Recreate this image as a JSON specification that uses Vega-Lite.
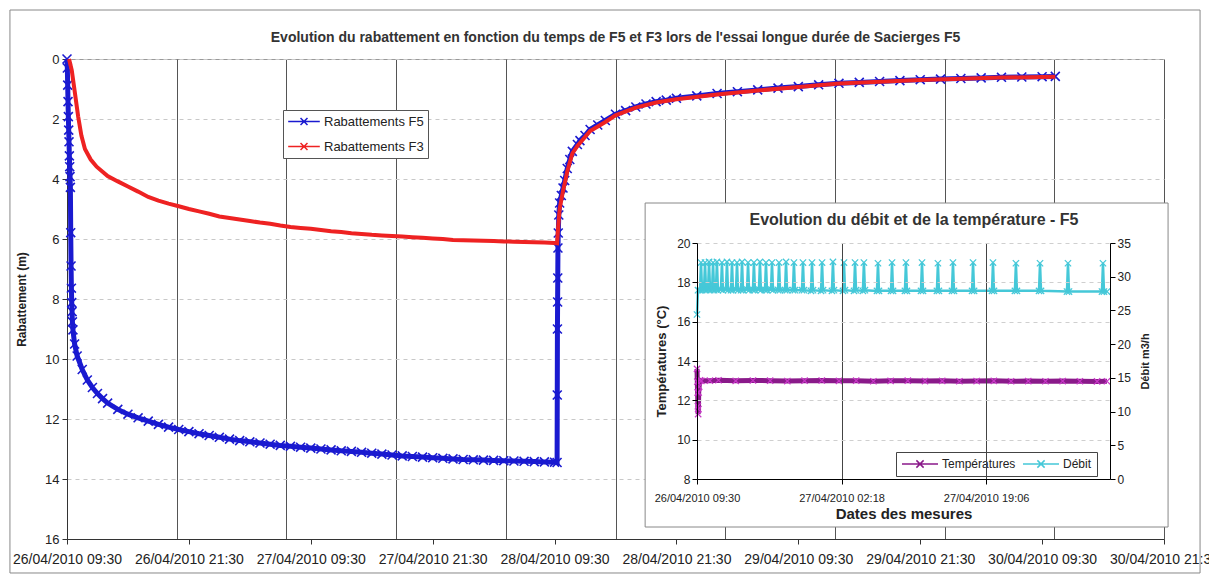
{
  "$schema": "https://vega.github.io/schema/vega-lite/v6.json",
  "autosize": {"type": "none"},
  "padding": {"left": 67, "top": 59, "right": 45, "bottom": 35},
  "width": 1097,
  "height": 480,
  "background": "white",
  "config": {"font": "Liberation Sans", "view": {"stroke": "#999"}, "axis": {"labelColor": "#222", "titleColor": "#222"}},
  "datasets": {
    "main": [
      {"t": "2010-04-26T09:30", "s": "F5", "v": 0},
      {"t": "2010-04-26T09:32", "s": "F5", "v": 0.3},
      {"t": "2010-04-26T09:34", "s": "F5", "v": 0.87},
      {"t": "2010-04-26T09:36", "s": "F5", "v": 1.42},
      {"t": "2010-04-26T09:38", "s": "F5", "v": 1.92},
      {"t": "2010-04-26T09:40", "s": "F5", "v": 2.37},
      {"t": "2010-04-26T09:42", "s": "F5", "v": 2.76},
      {"t": "2010-04-26T09:44", "s": "F5", "v": 3.23},
      {"t": "2010-04-26T09:46", "s": "F5", "v": 3.59},
      {"t": "2010-04-26T09:48", "s": "F5", "v": 3.92},
      {"t": "2010-04-26T09:50", "s": "F5", "v": 4.28},
      {"t": "2010-04-26T09:52", "s": "F5", "v": 5.79},
      {"t": "2010-04-26T09:54", "s": "F5", "v": 6.9},
      {"t": "2010-04-26T09:56", "s": "F5", "v": 7.64},
      {"t": "2010-04-26T09:58", "s": "F5", "v": 8.12},
      {"t": "2010-04-26T10:00", "s": "F5", "v": 8.42},
      {"t": "2010-04-26T10:02", "s": "F5", "v": 8.76},
      {"t": "2010-04-26T10:05", "s": "F5", "v": 9.03},
      {"t": "2010-04-26T10:15", "s": "F5", "v": 9.5},
      {"t": "2010-04-26T10:30", "s": "F5", "v": 9.9},
      {"t": "2010-04-26T11:00", "s": "F5", "v": 10.35},
      {"t": "2010-04-26T11:30", "s": "F5", "v": 10.7},
      {"t": "2010-04-26T12:00", "s": "F5", "v": 10.95},
      {"t": "2010-04-26T12:30", "s": "F5", "v": 11.15},
      {"t": "2010-04-26T13:00", "s": "F5", "v": 11.32},
      {"t": "2010-04-26T13:30", "s": "F5", "v": 11.47},
      {"t": "2010-04-26T14:30", "s": "F5", "v": 11.68},
      {"t": "2010-04-26T15:30", "s": "F5", "v": 11.84},
      {"t": "2010-04-26T16:30", "s": "F5", "v": 11.96},
      {"t": "2010-04-26T17:30", "s": "F5", "v": 12.07},
      {"t": "2010-04-26T18:30", "s": "F5", "v": 12.18},
      {"t": "2010-04-26T19:30", "s": "F5", "v": 12.27},
      {"t": "2010-04-26T20:30", "s": "F5", "v": 12.35},
      {"t": "2010-04-26T21:30", "s": "F5", "v": 12.42},
      {"t": "2010-04-26T22:30", "s": "F5", "v": 12.49},
      {"t": "2010-04-26T23:30", "s": "F5", "v": 12.55},
      {"t": "2010-04-27T00:30", "s": "F5", "v": 12.61},
      {"t": "2010-04-27T01:30", "s": "F5", "v": 12.67},
      {"t": "2010-04-27T02:30", "s": "F5", "v": 12.72},
      {"t": "2010-04-27T03:30", "s": "F5", "v": 12.76},
      {"t": "2010-04-27T04:30", "s": "F5", "v": 12.8},
      {"t": "2010-04-27T05:30", "s": "F5", "v": 12.84},
      {"t": "2010-04-27T06:30", "s": "F5", "v": 12.88},
      {"t": "2010-04-27T07:30", "s": "F5", "v": 12.91},
      {"t": "2010-04-27T08:30", "s": "F5", "v": 12.94},
      {"t": "2010-04-27T09:30", "s": "F5", "v": 12.97},
      {"t": "2010-04-27T10:30", "s": "F5", "v": 13.0},
      {"t": "2010-04-27T11:30", "s": "F5", "v": 13.03},
      {"t": "2010-04-27T12:30", "s": "F5", "v": 13.06},
      {"t": "2010-04-27T13:30", "s": "F5", "v": 13.08},
      {"t": "2010-04-27T14:30", "s": "F5", "v": 13.11},
      {"t": "2010-04-27T15:30", "s": "F5", "v": 13.14},
      {"t": "2010-04-27T16:30", "s": "F5", "v": 13.17},
      {"t": "2010-04-27T17:30", "s": "F5", "v": 13.2},
      {"t": "2010-04-27T18:30", "s": "F5", "v": 13.23},
      {"t": "2010-04-27T19:30", "s": "F5", "v": 13.25},
      {"t": "2010-04-27T20:30", "s": "F5", "v": 13.27},
      {"t": "2010-04-27T21:30", "s": "F5", "v": 13.29},
      {"t": "2010-04-27T22:30", "s": "F5", "v": 13.31},
      {"t": "2010-04-27T23:30", "s": "F5", "v": 13.33},
      {"t": "2010-04-28T00:30", "s": "F5", "v": 13.35},
      {"t": "2010-04-28T01:30", "s": "F5", "v": 13.36},
      {"t": "2010-04-28T02:30", "s": "F5", "v": 13.37},
      {"t": "2010-04-28T03:30", "s": "F5", "v": 13.38},
      {"t": "2010-04-28T04:30", "s": "F5", "v": 13.39},
      {"t": "2010-04-28T05:30", "s": "F5", "v": 13.4},
      {"t": "2010-04-28T06:30", "s": "F5", "v": 13.41},
      {"t": "2010-04-28T07:30", "s": "F5", "v": 13.42},
      {"t": "2010-04-28T08:30", "s": "F5", "v": 13.43},
      {"t": "2010-04-28T09:30", "s": "F5", "v": 13.44},
      {"t": "2010-04-28T09:45", "s": "F5", "v": 13.45},
      {"t": "2010-04-28T09:46", "s": "F5", "v": 11.2},
      {"t": "2010-04-28T09:47", "s": "F5", "v": 9.0},
      {"t": "2010-04-28T09:48", "s": "F5", "v": 8.1},
      {"t": "2010-04-28T09:49", "s": "F5", "v": 7.3},
      {"t": "2010-04-28T09:50", "s": "F5", "v": 6.3},
      {"t": "2010-04-28T09:52", "s": "F5", "v": 5.8},
      {"t": "2010-04-28T09:55", "s": "F5", "v": 5.2},
      {"t": "2010-04-28T10:00", "s": "F5", "v": 4.8},
      {"t": "2010-04-28T10:10", "s": "F5", "v": 4.55},
      {"t": "2010-04-28T10:20", "s": "F5", "v": 4.3},
      {"t": "2010-04-28T10:30", "s": "F5", "v": 4.05},
      {"t": "2010-04-28T10:45", "s": "F5", "v": 3.65},
      {"t": "2010-04-28T11:00", "s": "F5", "v": 3.35},
      {"t": "2010-04-28T11:15", "s": "F5", "v": 3.08},
      {"t": "2010-04-28T11:45", "s": "F5", "v": 2.85},
      {"t": "2010-04-28T12:00", "s": "F5", "v": 2.72},
      {"t": "2010-04-28T12:30", "s": "F5", "v": 2.55},
      {"t": "2010-04-28T13:00", "s": "F5", "v": 2.35},
      {"t": "2010-04-28T13:45", "s": "F5", "v": 2.2},
      {"t": "2010-04-28T14:30", "s": "F5", "v": 2.05},
      {"t": "2010-04-28T15:30", "s": "F5", "v": 1.84},
      {"t": "2010-04-28T16:30", "s": "F5", "v": 1.72},
      {"t": "2010-04-28T17:30", "s": "F5", "v": 1.6},
      {"t": "2010-04-28T18:30", "s": "F5", "v": 1.5},
      {"t": "2010-04-28T19:30", "s": "F5", "v": 1.42},
      {"t": "2010-04-28T20:30", "s": "F5", "v": 1.37},
      {"t": "2010-04-28T21:30", "s": "F5", "v": 1.31},
      {"t": "2010-04-28T23:30", "s": "F5", "v": 1.23},
      {"t": "2010-04-29T01:30", "s": "F5", "v": 1.15},
      {"t": "2010-04-29T03:30", "s": "F5", "v": 1.09},
      {"t": "2010-04-29T05:30", "s": "F5", "v": 1.03},
      {"t": "2010-04-29T07:30", "s": "F5", "v": 0.97},
      {"t": "2010-04-29T09:30", "s": "F5", "v": 0.92},
      {"t": "2010-04-29T11:30", "s": "F5", "v": 0.86},
      {"t": "2010-04-29T13:30", "s": "F5", "v": 0.81},
      {"t": "2010-04-29T15:30", "s": "F5", "v": 0.78},
      {"t": "2010-04-29T17:30", "s": "F5", "v": 0.75},
      {"t": "2010-04-29T19:30", "s": "F5", "v": 0.72},
      {"t": "2010-04-29T21:30", "s": "F5", "v": 0.69},
      {"t": "2010-04-29T23:30", "s": "F5", "v": 0.67},
      {"t": "2010-04-30T01:30", "s": "F5", "v": 0.65},
      {"t": "2010-04-30T03:30", "s": "F5", "v": 0.63},
      {"t": "2010-04-30T05:30", "s": "F5", "v": 0.61},
      {"t": "2010-04-30T07:30", "s": "F5", "v": 0.6},
      {"t": "2010-04-30T09:30", "s": "F5", "v": 0.59},
      {"t": "2010-04-30T10:48", "s": "F5", "v": 0.58},
      {"t": "2010-04-26T09:42", "s": "F3", "v": 0},
      {"t": "2010-04-26T09:58", "s": "F3", "v": 0.37},
      {"t": "2010-04-26T10:17", "s": "F3", "v": 1.14},
      {"t": "2010-04-26T10:36", "s": "F3", "v": 1.92},
      {"t": "2010-04-26T10:55", "s": "F3", "v": 2.55},
      {"t": "2010-04-26T11:16", "s": "F3", "v": 3.0},
      {"t": "2010-04-26T11:50", "s": "F3", "v": 3.35},
      {"t": "2010-04-26T12:25", "s": "F3", "v": 3.59},
      {"t": "2010-04-26T13:30", "s": "F3", "v": 3.9},
      {"t": "2010-04-26T14:30", "s": "F3", "v": 4.08},
      {"t": "2010-04-26T15:30", "s": "F3", "v": 4.25},
      {"t": "2010-04-26T16:30", "s": "F3", "v": 4.42},
      {"t": "2010-04-26T17:30", "s": "F3", "v": 4.6},
      {"t": "2010-04-26T18:30", "s": "F3", "v": 4.72},
      {"t": "2010-04-26T19:30", "s": "F3", "v": 4.82},
      {"t": "2010-04-26T20:30", "s": "F3", "v": 4.91},
      {"t": "2010-04-26T21:30", "s": "F3", "v": 5.0},
      {"t": "2010-04-26T22:30", "s": "F3", "v": 5.08},
      {"t": "2010-04-26T23:30", "s": "F3", "v": 5.16},
      {"t": "2010-04-27T00:30", "s": "F3", "v": 5.25},
      {"t": "2010-04-27T01:30", "s": "F3", "v": 5.3},
      {"t": "2010-04-27T02:30", "s": "F3", "v": 5.35},
      {"t": "2010-04-27T03:30", "s": "F3", "v": 5.4},
      {"t": "2010-04-27T04:30", "s": "F3", "v": 5.45},
      {"t": "2010-04-27T05:30", "s": "F3", "v": 5.49},
      {"t": "2010-04-27T06:30", "s": "F3", "v": 5.55},
      {"t": "2010-04-27T07:30", "s": "F3", "v": 5.6},
      {"t": "2010-04-27T08:30", "s": "F3", "v": 5.63},
      {"t": "2010-04-27T09:30", "s": "F3", "v": 5.66},
      {"t": "2010-04-27T10:30", "s": "F3", "v": 5.7},
      {"t": "2010-04-27T11:30", "s": "F3", "v": 5.74},
      {"t": "2010-04-27T12:30", "s": "F3", "v": 5.77},
      {"t": "2010-04-27T13:30", "s": "F3", "v": 5.81},
      {"t": "2010-04-27T14:30", "s": "F3", "v": 5.83},
      {"t": "2010-04-27T15:30", "s": "F3", "v": 5.86},
      {"t": "2010-04-27T16:30", "s": "F3", "v": 5.88},
      {"t": "2010-04-27T17:30", "s": "F3", "v": 5.9},
      {"t": "2010-04-27T18:30", "s": "F3", "v": 5.92},
      {"t": "2010-04-27T19:30", "s": "F3", "v": 5.94},
      {"t": "2010-04-27T20:30", "s": "F3", "v": 5.96},
      {"t": "2010-04-27T21:30", "s": "F3", "v": 5.98},
      {"t": "2010-04-27T22:30", "s": "F3", "v": 6.0},
      {"t": "2010-04-27T23:30", "s": "F3", "v": 6.03},
      {"t": "2010-04-28T00:30", "s": "F3", "v": 6.04},
      {"t": "2010-04-28T01:30", "s": "F3", "v": 6.05},
      {"t": "2010-04-28T02:30", "s": "F3", "v": 6.06},
      {"t": "2010-04-28T03:30", "s": "F3", "v": 6.07},
      {"t": "2010-04-28T04:30", "s": "F3", "v": 6.08},
      {"t": "2010-04-28T05:30", "s": "F3", "v": 6.09},
      {"t": "2010-04-28T06:30", "s": "F3", "v": 6.1},
      {"t": "2010-04-28T07:30", "s": "F3", "v": 6.11},
      {"t": "2010-04-28T08:30", "s": "F3", "v": 6.12},
      {"t": "2010-04-28T09:30", "s": "F3", "v": 6.13},
      {"t": "2010-04-28T09:45", "s": "F3", "v": 6.14},
      {"t": "2010-04-28T09:50", "s": "F3", "v": 5.7},
      {"t": "2010-04-28T10:00", "s": "F3", "v": 5.0},
      {"t": "2010-04-28T10:10", "s": "F3", "v": 4.7},
      {"t": "2010-04-28T10:20", "s": "F3", "v": 4.4},
      {"t": "2010-04-28T10:30", "s": "F3", "v": 4.15},
      {"t": "2010-04-28T10:45", "s": "F3", "v": 3.75},
      {"t": "2010-04-28T11:15", "s": "F3", "v": 3.15},
      {"t": "2010-04-28T11:45", "s": "F3", "v": 2.9},
      {"t": "2010-04-28T12:00", "s": "F3", "v": 2.8},
      {"t": "2010-04-28T13:00", "s": "F3", "v": 2.4},
      {"t": "2010-04-28T14:30", "s": "F3", "v": 2.1},
      {"t": "2010-04-28T15:30", "s": "F3", "v": 1.88},
      {"t": "2010-04-28T17:30", "s": "F3", "v": 1.62},
      {"t": "2010-04-28T19:30", "s": "F3", "v": 1.45},
      {"t": "2010-04-28T21:30", "s": "F3", "v": 1.34},
      {"t": "2010-04-29T01:30", "s": "F3", "v": 1.18},
      {"t": "2010-04-29T05:30", "s": "F3", "v": 1.05},
      {"t": "2010-04-29T09:30", "s": "F3", "v": 0.93},
      {"t": "2010-04-29T13:30", "s": "F3", "v": 0.82},
      {"t": "2010-04-29T17:30", "s": "F3", "v": 0.76},
      {"t": "2010-04-29T21:30", "s": "F3", "v": 0.7},
      {"t": "2010-04-30T01:30", "s": "F3", "v": 0.66},
      {"t": "2010-04-30T05:30", "s": "F3", "v": 0.62},
      {"t": "2010-04-30T09:30", "s": "F3", "v": 0.6},
      {"t": "2010-04-30T10:48", "s": "F3", "v": 0.59}
    ],
    "inset": [
      {"t": "2010-04-26T09:30", "s": "Températures", "v": 13.6},
      {"t": "2010-04-26T09:32", "s": "Températures", "v": 12.95},
      {"t": "2010-04-26T09:34", "s": "Températures", "v": 12.4},
      {"t": "2010-04-26T09:36", "s": "Températures", "v": 11.7},
      {"t": "2010-04-26T09:38", "s": "Températures", "v": 11.3},
      {"t": "2010-04-26T09:40", "s": "Températures", "v": 11.55},
      {"t": "2010-04-26T09:42", "s": "Températures", "v": 12.4},
      {"t": "2010-04-26T09:45", "s": "Températures", "v": 12.7},
      {"t": "2010-04-26T09:50", "s": "Températures", "v": 13.02},
      {"t": "2010-04-26T10:00", "s": "Températures", "v": 12.99},
      {"t": "2010-04-26T11:00", "s": "Températures", "v": 13.0},
      {"t": "2010-04-26T12:00", "s": "Températures", "v": 13.02},
      {"t": "2010-04-26T14:00", "s": "Températures", "v": 12.99},
      {"t": "2010-04-26T16:00", "s": "Températures", "v": 13.01},
      {"t": "2010-04-26T18:00", "s": "Températures", "v": 13.0},
      {"t": "2010-04-26T20:00", "s": "Températures", "v": 12.98},
      {"t": "2010-04-26T22:00", "s": "Températures", "v": 13.0},
      {"t": "2010-04-27T00:00", "s": "Températures", "v": 13.01},
      {"t": "2010-04-27T02:00", "s": "Températures", "v": 12.99},
      {"t": "2010-04-27T04:00", "s": "Températures", "v": 13.0},
      {"t": "2010-04-27T06:00", "s": "Températures", "v": 12.97},
      {"t": "2010-04-27T08:00", "s": "Températures", "v": 12.99},
      {"t": "2010-04-27T10:00", "s": "Températures", "v": 13.0},
      {"t": "2010-04-27T12:00", "s": "Températures", "v": 12.98},
      {"t": "2010-04-27T14:00", "s": "Températures", "v": 12.99},
      {"t": "2010-04-27T16:00", "s": "Températures", "v": 12.97},
      {"t": "2010-04-27T18:00", "s": "Températures", "v": 12.98},
      {"t": "2010-04-27T20:00", "s": "Températures", "v": 12.99},
      {"t": "2010-04-27T22:00", "s": "Températures", "v": 12.97},
      {"t": "2010-04-28T00:00", "s": "Températures", "v": 12.98},
      {"t": "2010-04-28T02:00", "s": "Températures", "v": 12.97},
      {"t": "2010-04-28T04:00", "s": "Températures", "v": 12.98},
      {"t": "2010-04-28T06:00", "s": "Températures", "v": 12.97},
      {"t": "2010-04-28T08:00", "s": "Températures", "v": 12.96},
      {"t": "2010-04-28T09:09", "s": "Températures", "v": 12.97},
      {"t": "2010-04-26T09:30", "s": "Débit", "v": 24.4},
      {"t": "2010-04-26T09:37", "s": "Débit", "v": 28.0},
      {"t": "2010-04-26T09:51", "s": "Débit", "v": 28.0},
      {"t": "2010-04-26T09:58", "s": "Débit", "v": 32.1},
      {"t": "2010-04-26T10:05", "s": "Débit", "v": 28.0},
      {"t": "2010-04-26T10:19", "s": "Débit", "v": 28.1},
      {"t": "2010-04-26T10:26", "s": "Débit", "v": 32.1},
      {"t": "2010-04-26T10:33", "s": "Débit", "v": 28.0},
      {"t": "2010-04-26T10:47", "s": "Débit", "v": 28.1},
      {"t": "2010-04-26T10:54", "s": "Débit", "v": 32.2},
      {"t": "2010-04-26T11:01", "s": "Débit", "v": 28.0},
      {"t": "2010-04-26T11:15", "s": "Débit", "v": 28.1},
      {"t": "2010-04-26T11:22", "s": "Débit", "v": 32.1},
      {"t": "2010-04-26T11:29", "s": "Débit", "v": 28.0},
      {"t": "2010-04-26T11:42", "s": "Débit", "v": 28.1},
      {"t": "2010-04-26T11:49", "s": "Débit", "v": 32.2},
      {"t": "2010-04-26T11:56", "s": "Débit", "v": 28.0},
      {"t": "2010-04-26T12:17", "s": "Débit", "v": 28.1},
      {"t": "2010-04-26T12:24", "s": "Débit", "v": 32.1},
      {"t": "2010-04-26T12:31", "s": "Débit", "v": 28.0},
      {"t": "2010-04-26T12:52", "s": "Débit", "v": 28.1},
      {"t": "2010-04-26T12:59", "s": "Débit", "v": 32.2},
      {"t": "2010-04-26T13:06", "s": "Débit", "v": 28.0},
      {"t": "2010-04-26T13:27", "s": "Débit", "v": 28.0},
      {"t": "2010-04-26T13:34", "s": "Débit", "v": 32.1},
      {"t": "2010-04-26T13:41", "s": "Débit", "v": 28.0},
      {"t": "2010-04-26T14:02", "s": "Débit", "v": 28.1},
      {"t": "2010-04-26T14:09", "s": "Débit", "v": 32.1},
      {"t": "2010-04-26T14:16", "s": "Débit", "v": 28.0},
      {"t": "2010-04-26T14:37", "s": "Débit", "v": 28.0},
      {"t": "2010-04-26T14:44", "s": "Débit", "v": 32.2},
      {"t": "2010-04-26T14:51", "s": "Débit", "v": 28.0},
      {"t": "2010-04-26T15:19", "s": "Débit", "v": 28.1},
      {"t": "2010-04-26T15:26", "s": "Débit", "v": 32.1},
      {"t": "2010-04-26T15:33", "s": "Débit", "v": 28.0},
      {"t": "2010-04-26T16:00", "s": "Débit", "v": 28.0},
      {"t": "2010-04-26T16:07", "s": "Débit", "v": 32.1},
      {"t": "2010-04-26T16:14", "s": "Débit", "v": 28.0},
      {"t": "2010-04-26T16:42", "s": "Débit", "v": 28.1},
      {"t": "2010-04-26T16:49", "s": "Débit", "v": 32.2},
      {"t": "2010-04-26T16:56", "s": "Débit", "v": 28.0},
      {"t": "2010-04-26T17:24", "s": "Débit", "v": 28.0},
      {"t": "2010-04-26T17:31", "s": "Débit", "v": 32.1},
      {"t": "2010-04-26T17:38", "s": "Débit", "v": 28.0},
      {"t": "2010-04-26T18:06", "s": "Débit", "v": 28.1},
      {"t": "2010-04-26T18:13", "s": "Débit", "v": 32.1},
      {"t": "2010-04-26T18:20", "s": "Débit", "v": 28.0},
      {"t": "2010-04-26T18:55", "s": "Débit", "v": 28.0},
      {"t": "2010-04-26T19:02", "s": "Débit", "v": 32.1},
      {"t": "2010-04-26T19:09", "s": "Débit", "v": 28.0},
      {"t": "2010-04-26T19:44", "s": "Débit", "v": 28.0},
      {"t": "2010-04-26T19:51", "s": "Débit", "v": 32.2},
      {"t": "2010-04-26T19:58", "s": "Débit", "v": 28.0},
      {"t": "2010-04-26T20:39", "s": "Débit", "v": 28.0},
      {"t": "2010-04-26T20:46", "s": "Débit", "v": 32.1},
      {"t": "2010-04-26T20:53", "s": "Débit", "v": 28.0},
      {"t": "2010-04-26T21:42", "s": "Débit", "v": 28.0},
      {"t": "2010-04-26T21:49", "s": "Débit", "v": 32.1},
      {"t": "2010-04-26T21:56", "s": "Débit", "v": 28.0},
      {"t": "2010-04-26T22:45", "s": "Débit", "v": 27.9},
      {"t": "2010-04-26T22:52", "s": "Débit", "v": 32.1},
      {"t": "2010-04-26T22:59", "s": "Débit", "v": 28.0},
      {"t": "2010-04-26T23:55", "s": "Débit", "v": 27.9},
      {"t": "2010-04-27T00:02", "s": "Débit", "v": 32.1},
      {"t": "2010-04-27T00:09", "s": "Débit", "v": 28.0},
      {"t": "2010-04-27T01:11", "s": "Débit", "v": 27.9},
      {"t": "2010-04-27T01:18", "s": "Débit", "v": 32.2},
      {"t": "2010-04-27T01:25", "s": "Débit", "v": 28.0},
      {"t": "2010-04-27T02:28", "s": "Débit", "v": 27.9},
      {"t": "2010-04-27T02:35", "s": "Débit", "v": 32.1},
      {"t": "2010-04-27T02:42", "s": "Débit", "v": 28.0},
      {"t": "2010-04-27T03:45", "s": "Débit", "v": 27.9},
      {"t": "2010-04-27T03:52", "s": "Débit", "v": 32.1},
      {"t": "2010-04-27T03:59", "s": "Débit", "v": 28.0},
      {"t": "2010-04-27T04:47", "s": "Débit", "v": 27.9},
      {"t": "2010-04-27T04:54", "s": "Débit", "v": 32.1},
      {"t": "2010-04-27T05:01", "s": "Débit", "v": 28.0},
      {"t": "2010-04-27T06:25", "s": "Débit", "v": 27.9},
      {"t": "2010-04-27T06:32", "s": "Débit", "v": 32.0},
      {"t": "2010-04-27T06:39", "s": "Débit", "v": 27.9},
      {"t": "2010-04-27T08:03", "s": "Débit", "v": 27.9},
      {"t": "2010-04-27T08:10", "s": "Débit", "v": 32.1},
      {"t": "2010-04-27T08:17", "s": "Débit", "v": 27.9},
      {"t": "2010-04-27T09:40", "s": "Débit", "v": 27.9},
      {"t": "2010-04-27T09:47", "s": "Débit", "v": 32.1},
      {"t": "2010-04-27T09:54", "s": "Débit", "v": 27.9},
      {"t": "2010-04-27T11:32", "s": "Débit", "v": 27.9},
      {"t": "2010-04-27T11:39", "s": "Débit", "v": 32.1},
      {"t": "2010-04-27T11:46", "s": "Débit", "v": 27.9},
      {"t": "2010-04-27T13:23", "s": "Débit", "v": 27.9},
      {"t": "2010-04-27T13:30", "s": "Débit", "v": 32.0},
      {"t": "2010-04-27T13:37", "s": "Débit", "v": 27.9},
      {"t": "2010-04-27T15:08", "s": "Débit", "v": 27.9},
      {"t": "2010-04-27T15:15", "s": "Débit", "v": 32.1},
      {"t": "2010-04-27T15:22", "s": "Débit", "v": 27.9},
      {"t": "2010-04-27T17:28", "s": "Débit", "v": 27.9},
      {"t": "2010-04-27T17:35", "s": "Débit", "v": 32.1},
      {"t": "2010-04-27T17:42", "s": "Débit", "v": 27.9},
      {"t": "2010-04-27T19:47", "s": "Débit", "v": 27.9},
      {"t": "2010-04-27T19:54", "s": "Débit", "v": 32.1},
      {"t": "2010-04-27T20:01", "s": "Débit", "v": 27.9},
      {"t": "2010-04-27T22:27", "s": "Débit", "v": 27.9},
      {"t": "2010-04-27T22:34", "s": "Débit", "v": 32.0},
      {"t": "2010-04-27T22:41", "s": "Débit", "v": 27.9},
      {"t": "2010-04-28T01:15", "s": "Débit", "v": 27.9},
      {"t": "2010-04-28T01:22", "s": "Débit", "v": 32.0},
      {"t": "2010-04-28T01:29", "s": "Débit", "v": 27.9},
      {"t": "2010-04-28T04:30", "s": "Débit", "v": 27.8},
      {"t": "2010-04-28T04:37", "s": "Débit", "v": 32.0},
      {"t": "2010-04-28T04:44", "s": "Débit", "v": 27.8},
      {"t": "2010-04-28T08:34", "s": "Débit", "v": 27.8},
      {"t": "2010-04-28T08:41", "s": "Débit", "v": 32.0},
      {"t": "2010-04-28T08:48", "s": "Débit", "v": 27.8},
      {"t": "2010-04-28T09:09", "s": "Débit", "v": 27.8}
    ]
  },
  "layer": [
    {
      "data": {"values": [{}]},
      "mark": {"type": "rect", "fill": "transparent", "stroke": "#888", "strokeWidth": 1},
      "encoding": {
        "x": {"datum": {"year": 2010, "month": 4, "date": 26, "hours": 3, "minutes": 53}, "type": "temporal",
          "scale": {"domain": [{"year": 2010, "month": 4, "date": 26, "hours": 9, "minutes": 30}, {"year": 2010, "month": 4, "date": 30, "hours": 21, "minutes": 30}], "nice": false},
          "axis": {"orient": "top", "title": null, "labels": false, "ticks": false, "domain": false, "grid": true, "gridColor": "#555", "gridWidth": 1,
            "values": [
              {"year": 2010, "month": 4, "date": 26, "hours": 9, "minutes": 30},
              {"year": 2010, "month": 4, "date": 26, "hours": 20, "minutes": 18},
              {"year": 2010, "month": 4, "date": 27, "hours": 7, "minutes": 6},
              {"year": 2010, "month": 4, "date": 27, "hours": 17, "minutes": 54},
              {"year": 2010, "month": 4, "date": 28, "hours": 4, "minutes": 42},
              {"year": 2010, "month": 4, "date": 28, "hours": 15, "minutes": 30},
              {"year": 2010, "month": 4, "date": 29, "hours": 2, "minutes": 18},
              {"year": 2010, "month": 4, "date": 29, "hours": 13, "minutes": 6},
              {"year": 2010, "month": 4, "date": 29, "hours": 23, "minutes": 54},
              {"year": 2010, "month": 4, "date": 30, "hours": 10, "minutes": 42},
              {"year": 2010, "month": 4, "date": 30, "hours": 21, "minutes": 30}
            ]}},
        "x2": {"datum": {"year": 2010, "month": 5, "date": 1, "hours": 1, "minutes": 3}},
        "y": {"datum": -1.633, "type": "quantitative", "scale": {"domain": [0, 16], "reverse": true, "nice": false, "zero": false}, "axis": null},
        "y2": {"datum": 17.133}
      }
    },
    {
      "data": {"values": [{}]},
      "mark": {"type": "rect", "fill": "white", "stroke": "#888", "strokeWidth": 1},
      "encoding": {
        "x": {"datum": {"year": 2010, "month": 4, "date": 28, "hours": 18, "minutes": 25}, "type": "temporal",
          "scale": {"domain": [{"year": 2010, "month": 4, "date": 26, "hours": 9, "minutes": 30}, {"year": 2010, "month": 4, "date": 30, "hours": 21, "minutes": 30}], "nice": false}, "axis": null},
        "x2": {"datum": {"year": 2010, "month": 4, "date": 30, "hours": 21, "minutes": 54}},
        "y": {"datum": 4.8, "type": "quantitative", "scale": {"domain": [0, 16], "reverse": true, "nice": false, "zero": false}, "axis": null},
        "y2": {"datum": 15.6}
      }
    },
    {
      "data": {"name": "main"},
      "transform": [{"filter": "datum.s === 'F5'"}],
      "mark": {"type": "line", "strokeWidth": 5},
      "encoding": {
        "x": {"field": "t", "type": "temporal",
          "scale": {"domain": [{"year": 2010, "month": 4, "date": 26, "hours": 9, "minutes": 30}, {"year": 2010, "month": 4, "date": 30, "hours": 21, "minutes": 30}], "nice": false},
          "axis": {"orient": "bottom", "title": null, "format": "%d/%m/%Y %H:%M", "labelFontSize": 14, "labelPadding": 8, "labelOverlap": false, "labelFlush": false, "grid": false, "tickSize": 5, "tickColor": "#333", "domainColor": "#333",
            "values": [
              {"year": 2010, "month": 4, "date": 26, "hours": 9, "minutes": 30},
              {"year": 2010, "month": 4, "date": 26, "hours": 21, "minutes": 30},
              {"year": 2010, "month": 4, "date": 27, "hours": 9, "minutes": 30},
              {"year": 2010, "month": 4, "date": 27, "hours": 21, "minutes": 30},
              {"year": 2010, "month": 4, "date": 28, "hours": 9, "minutes": 30},
              {"year": 2010, "month": 4, "date": 28, "hours": 21, "minutes": 30},
              {"year": 2010, "month": 4, "date": 29, "hours": 9, "minutes": 30},
              {"year": 2010, "month": 4, "date": 29, "hours": 21, "minutes": 30},
              {"year": 2010, "month": 4, "date": 30, "hours": 9, "minutes": 30},
              {"year": 2010, "month": 4, "date": 30, "hours": 21, "minutes": 30}
            ]}},
        "y": {"field": "v", "type": "quantitative", "title": "Rabattement (m)",
          "scale": {"domain": [0, 16], "reverse": true, "nice": false, "zero": false},
          "axis": {"orient": "left", "values": [0, 2, 4, 6, 8, 10, 12, 14, 16], "labelFontSize": 13, "labelPadding": 3, "tickSize": 5, "grid": true, "gridColor": "#c8c8c8", "gridDash": [4, 4], "domainColor": "#333", "tickColor": "#333", "titleFontSize": 12, "titleFontWeight": "bold", "titlePadding": 16}},
        "color": {"field": "s", "type": "nominal",
          "scale": {"domain": ["F5", "F3"], "range": ["#1a1ad0", "#ee2222"]},
          "legend": {"orient": "none", "legendX": 216, "legendY": 51, "title": null, "labelExpr": "'Rabattements ' + datum.label",
            "symbolType": "M-1,0L1,0M-0.22,-0.22L0.22,0.22M-0.22,0.22L0.22,-0.22", "symbolSize": 1000, "symbolStrokeWidth": 1.5, "clipHeight": 15,
            "labelFontSize": 13, "labelColor": "#222", "labelOffset": 3, "rowPadding": 10, "padding": 4, "strokeColor": "#555", "fillColor": "white"}}
      }
    },
    {
      "data": {"name": "main"},
      "transform": [{"filter": "datum.s === 'F5'"}],
      "mark": {"type": "point", "shape": "M-1,-1L1,1M-1,1L1,-1", "filled": false, "size": 80, "strokeWidth": 1.6, "color": "#1a1ad0", "opacity": 1},
      "encoding": {
        "x": {"field": "t", "type": "temporal", "axis": null,
          "scale": {"domain": [{"year": 2010, "month": 4, "date": 26, "hours": 9, "minutes": 30}, {"year": 2010, "month": 4, "date": 30, "hours": 21, "minutes": 30}], "nice": false}},
        "y": {"field": "v", "type": "quantitative", "axis": null, "scale": {"domain": [0, 16], "reverse": true, "nice": false, "zero": false}}
      }
    },
    {
      "data": {"name": "main"},
      "transform": [{"filter": "datum.s === 'F3'"}],
      "mark": {"type": "line", "strokeWidth": 4, "color": "#ee2222"},
      "encoding": {
        "x": {"field": "t", "type": "temporal", "axis": null,
          "scale": {"domain": [{"year": 2010, "month": 4, "date": 26, "hours": 9, "minutes": 30}, {"year": 2010, "month": 4, "date": 30, "hours": 21, "minutes": 30}], "nice": false}},
        "y": {"field": "v", "type": "quantitative", "axis": null, "scale": {"domain": [0, 16], "reverse": true, "nice": false, "zero": false}}
      }
    },
    {
      "data": {"values": [{}]},
      "mark": {"type": "text", "text": "Evolution du rabattement en fonction du temps de F5 et F3 lors de l'essai longue durée de Sacierges F5", "fontSize": 14, "fontWeight": "bold", "color": "#333", "align": "center", "baseline": "middle"},
      "encoding": {
        "x": {"datum": {"year": 2010, "month": 4, "date": 28, "hours": 15, "minutes": 30}, "type": "temporal", "axis": null,
          "scale": {"domain": [{"year": 2010, "month": 4, "date": 26, "hours": 9, "minutes": 30}, {"year": 2010, "month": 4, "date": 30, "hours": 21, "minutes": 30}], "nice": false}},
        "y": {"datum": -0.7, "type": "quantitative", "axis": null, "scale": {"domain": [0, 16], "reverse": true, "nice": false, "zero": false}}
      }
    },
    {
      "data": {"values": [{}]},
      "mark": {"type": "text", "text": "Evolution du débit et de la température  - F5", "fontSize": 16, "fontWeight": "bold", "color": "#333", "align": "center", "baseline": "middle"},
      "encoding": {
        "x": {"datum": {"year": 2010, "month": 4, "date": 29, "hours": 20, "minutes": 53}, "type": "temporal", "axis": null,
          "scale": {"domain": [{"year": 2010, "month": 4, "date": 26, "hours": 9, "minutes": 30}, {"year": 2010, "month": 4, "date": 30, "hours": 21, "minutes": 30}], "nice": false}},
        "y": {"datum": 5.367, "type": "quantitative", "axis": null, "scale": {"domain": [0, 16], "reverse": true, "nice": false, "zero": false}}
      }
    },
    {
      "data": {"name": "inset"},
      "transform": [{"filter": "datum.s === 'Températures'"}],
      "mark": {"type": "line", "strokeWidth": 5},
      "encoding": {
        "x": {"field": "t", "type": "temporal", "title": "Dates des mesures",
          "scale": {"domain": [{"year": 2010, "month": 4, "date": 26, "hours": 9, "minutes": 30}, {"year": 2010, "month": 4, "date": 28, "hours": 9, "minutes": 30}], "range": [630, 1043], "nice": false},
          "axis": {"orient": "bottom", "offset": -60, "zindex": 1, "format": "%d/%m/%Y %H:%M", "labelFontSize": 11, "labelPadding": 8, "labelFlush": false, "tickSize": 5, "grid": false, "domainColor": "#000", "tickColor": "#000", "titleFontSize": 15, "titleFontWeight": "bold", "titlePadding": 3, "labelOverlap": false,
            "values": [
              {"year": 2010, "month": 4, "date": 26, "hours": 9, "minutes": 30},
              {"year": 2010, "month": 4, "date": 27, "hours": 2, "minutes": 18},
              {"year": 2010, "month": 4, "date": 27, "hours": 19, "minutes": 6}
            ]}},
        "y": {"field": "v", "type": "quantitative", "title": "Températures (°C)",
          "scale": {"domain": [8, 20], "range": [420, 184], "nice": false, "zero": false},
          "axis": {"orient": "left", "offset": -630, "zindex": 1, "values": [8, 10, 12, 14, 16, 18, 20], "labelFontSize": 12, "labelFlush": false, "tickSize": 5, "grid": false, "domainColor": "#000", "tickColor": "#000", "titleFontSize": 13, "titleFontWeight": "bold", "titlePadding": 8}},
        "color": {"field": "s", "type": "nominal",
          "scale": {"domain": ["Températures", "Débit"], "range": ["#8a1a8a", "#45c8d8"]},
          "legend": {"orient": "none", "legendX": 829, "legendY": 393, "direction": "horizontal", "columns": 2, "title": null,
            "symbolType": "M-1,0L1,0M-0.2,-0.2L0.2,0.2M-0.2,0.2L0.2,-0.2", "symbolSize": 1300, "symbolStrokeWidth": 1.5, "clipHeight": 14,
            "labelFontSize": 12, "labelColor": "#222", "labelOffset": 3, "columnPadding": 6, "padding": 5, "strokeColor": "#444", "fillColor": "white"}}
      }
    },
    {
      "data": {"name": "inset"},
      "transform": [{"filter": "datum.s === 'Températures'"}],
      "mark": {"type": "point", "shape": "M-1,-1L1,1M-1,1L1,-1", "filled": false, "size": 40, "strokeWidth": 1.2, "color": "#c838c8", "opacity": 1},
      "encoding": {
        "x": {"field": "t", "type": "temporal",
          "scale": {"domain": [{"year": 2010, "month": 4, "date": 26, "hours": 9, "minutes": 30}, {"year": 2010, "month": 4, "date": 28, "hours": 9, "minutes": 30}], "range": [630, 1043], "nice": false},
          "axis": {"orient": "top", "zindex": 1, "title": null, "labels": false, "ticks": false, "domain": false, "grid": true, "gridColor": "#444", "gridWidth": 1,
            "values": [
              {"year": 2010, "month": 4, "date": 27, "hours": 2, "minutes": 18},
              {"year": 2010, "month": 4, "date": 27, "hours": 19, "minutes": 6}
            ]}},
        "y": {"field": "v", "type": "quantitative",
          "scale": {"domain": [8, 20], "range": [420, 184], "nice": false, "zero": false},
          "axis": {"orient": "left", "zindex": 1, "title": null, "labels": false, "ticks": false, "domain": false, "grid": true, "gridColor": "#cfcfcf", "gridDash": [4, 4], "values": [10, 12, 14, 16, 18, 20]}}
      }
    },
    {
      "data": {"name": "inset"},
      "transform": [{"filter": "datum.s === 'Débit'"}],
      "mark": {"type": "line", "strokeWidth": 2.5, "color": "#45c8d8"},
      "encoding": {
        "x": {"field": "t", "type": "temporal", "axis": null,
          "scale": {"domain": [{"year": 2010, "month": 4, "date": 26, "hours": 9, "minutes": 30}, {"year": 2010, "month": 4, "date": 28, "hours": 9, "minutes": 30}], "range": [630, 1043], "nice": false}},
        "y": {"field": "v", "type": "quantitative", "title": "Débit m3/h",
          "scale": {"domain": [0, 35], "range": [420, 184], "nice": false, "zero": false},
          "axis": {"orient": "right", "offset": -54, "zindex": 1, "values": [0, 5, 10, 15, 20, 25, 30, 35], "labelFontSize": 12, "labelFlush": false, "tickSize": 5, "grid": false, "domainColor": "#000", "tickColor": "#000", "titleFontSize": 11, "titleFontWeight": "bold", "titleAngle": 270, "titlePadding": 20}}
      }
    },
    {
      "data": {"name": "inset"},
      "transform": [{"filter": "datum.s === 'Débit'"}],
      "mark": {"type": "point", "shape": "M-1,-1L1,1M-1,1L1,-1", "filled": false, "size": 40, "strokeWidth": 1.2, "color": "#45c8d8", "opacity": 1},
      "encoding": {
        "x": {"field": "t", "type": "temporal", "axis": null,
          "scale": {"domain": [{"year": 2010, "month": 4, "date": 26, "hours": 9, "minutes": 30}, {"year": 2010, "month": 4, "date": 28, "hours": 9, "minutes": 30}], "range": [630, 1043], "nice": false}},
        "y": {"field": "v", "type": "quantitative", "axis": null, "scale": {"domain": [0, 35], "range": [420, 184], "nice": false, "zero": false}}
      }
    }
  ],
  "resolve": {"scale": {"x": "independent", "y": "independent", "color": "independent"}, "axis": {"x": "independent", "y": "independent"}, "legend": {"color": "independent"}}
}
